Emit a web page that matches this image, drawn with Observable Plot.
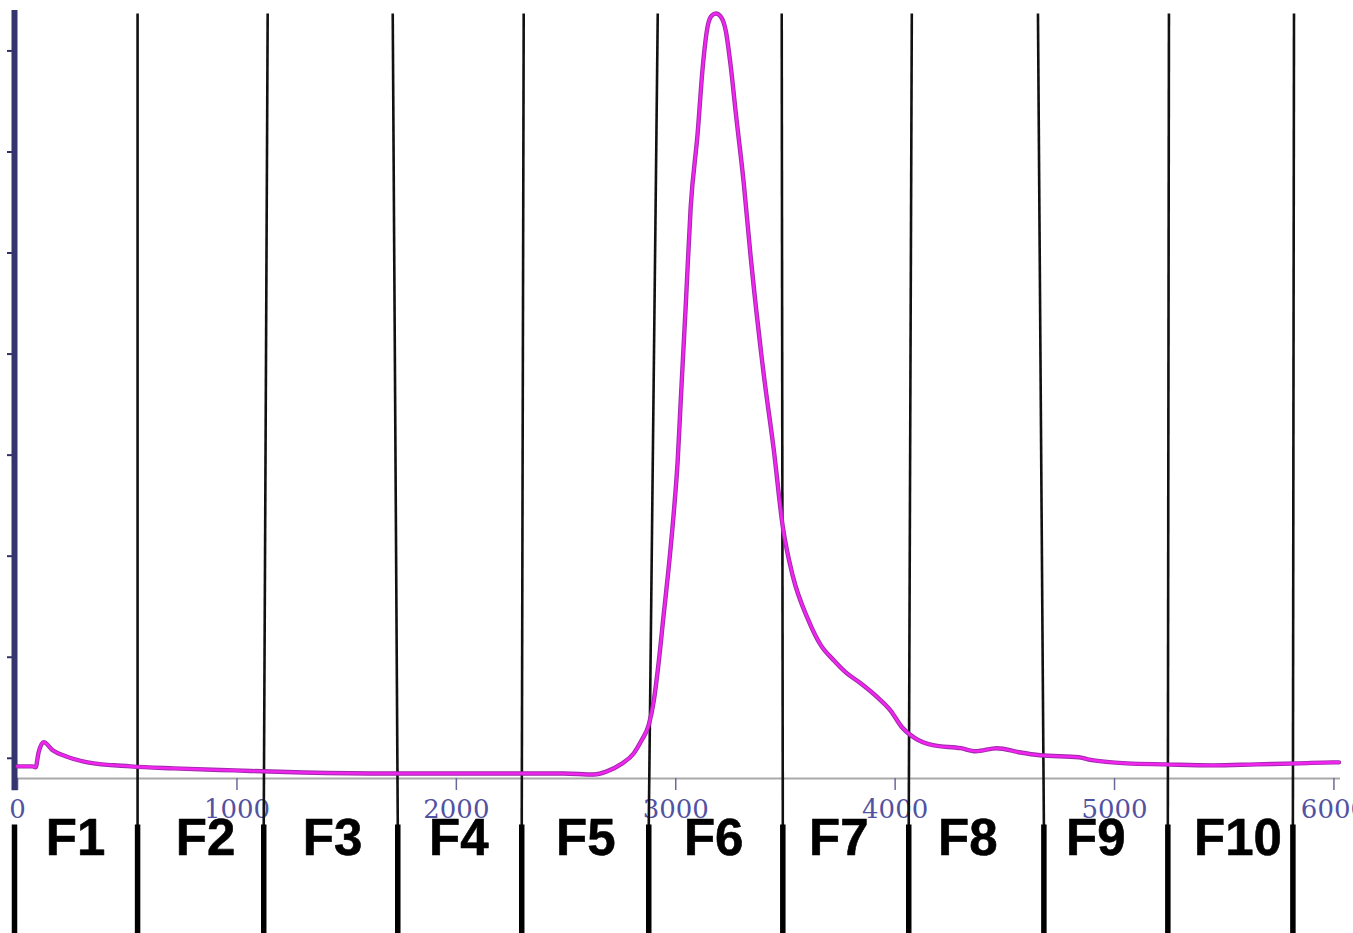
<!DOCTYPE html>
<html>
<head>
<meta charset="utf-8">
<script src="https://cdn.jsdelivr.net/npm/d3@7"></script>
<script src="https://cdn.jsdelivr.net/npm/@observablehq/plot@0.6"></script>
<style>
  html, body { margin: 0; padding: 0; background: #ffffff; }
  #chart svg { display: block; }
</style>
</head>
<body>
<div id="chart"></div>
<script>
// Elution volume (x) and detector signal (y, arbitrary units)
const volume = [0, 68, 82, 96, 119, 160, 219, 319, 515, 711, 989, 1304, 1701, 2093, 2489, 2626, 2686, 2749, 2809, 2845, 2877, 2900, 2918, 2945, 2968, 2991, 3009, 3023, 3046, 3068, 3100, 3123, 3146, 3164, 3183, 3205, 3228, 3251, 3274, 3310, 3342, 3401, 3447, 3488, 3534, 3602, 3661, 3720, 3775, 3844, 3921, 3980, 4030, 4090, 4172, 4299, 4368, 4464, 4564, 4660, 4837, 4878, 5056, 5230, 5448, 5645, 5840, 5996, 6023];
const signal = [-0.08, -0.08, -0.09, 0.06, 0.16, 0.08, 0.02, -0.04, -0.08, -0.10, -0.12, -0.14, -0.15, -0.15, -0.15, -0.16, -0.13, -0.06, 0.05, 0.18, 0.33, 0.57, 0.87, 1.42, 1.89, 2.43, 2.95, 3.55, 4.50, 5.45, 6.19, 6.84, 7.25, 7.35, 7.37, 7.34, 7.20, 6.84, 6.38, 5.69, 4.95, 3.80, 3.05, 2.29, 1.80, 1.38, 1.12, 0.97, 0.85, 0.74, 0.60, 0.47, 0.31, 0.20, 0.13, 0.10, 0.07, 0.10, 0.06, 0.03, 0.01, -0.01, -0.05, -0.06, -0.07, -0.06, -0.05, -0.04, -0.04];

// Fraction names and boundaries (in elution-volume units)
const fractionLabels = ["F1", "F2", "F3", "F4", "F5", "F6", "F7", "F8", "F9", "F10"];
const fractionCenters = [264, 857, 1436, 2011, 2590, 3173, 3743, 4331, 4915, 5563];
const boundaryTop = [547, 1140, 1710, 2307, 2918, 3483, 4076, 4651, 5248, 5818];
const boundaryBottom = [547, 1122, 1733, 2298, 2877, 3488, 4062, 4678, 5243, 5813];
const firstFractionStart = -14;

// Axis ticks
const xTicks = [0, 1000, 2000, 3000, 4000, 5000, 6000];
const yTicks = [0, 1, 2, 3, 4, 5, 6, 7];

const xDomain = [-14, 6030];
const yDomain = [-0.2, 7.4];

const trace = volume.map((v, i) => ({v, s: signal[i]}));
const upperLines = boundaryTop.map((t, i) => ({top: t, bottom: boundaryBottom[i]}));
const lowerLines = [firstFractionStart, ...boundaryBottom];
const labels = fractionLabels.map((name, i) => ({name, x: fractionCenters[i]}));

const labelY = -0.80;
const lowerTopY = -0.66;
const lowerBottomY = -1.76;

const chart = Plot.plot({
  width: 1353,
  height: 933,
  marginLeft: 14,
  marginRight: 13,
  marginTop: 10,
  marginBottom: 155,
  x: {domain: xDomain},
  y: {domain: yDomain},
  style: {background: "#ffffff", overflow: "hidden"},
  marks: [
    // x axis baseline
    Plot.ruleY([yDomain[0]], {stroke: "#a9a9a9", strokeWidth: 2}),
    Plot.axisX({
      ticks: xTicks,
      tickSize: 12,
      tickPadding: 9,
      tickFormat: d => String(d),
      stroke: "#6a6a9a",
      strokeWidth: 1.5,
      fill: "#5252a2",
      fontSize: 26,
      fontFamily: "DejaVu Serif",
      label: null
    }),
    // y axis (unlabelled ticks) with a thick navy spine
    Plot.axisY({
      ticks: yTicks,
      tickSize: 7,
      tickFormat: () => "",
      stroke: "#30306a",
      strokeWidth: 2,
      label: null
    }),
    Plot.ruleX([xDomain[0]], {y1: -0.32, y2: yDomain[1], stroke: "#34346e", strokeWidth: 6}),
    // fraction divider lines (upper, thin)
    Plot.link(upperLines, {x1: "top", y1: 7.37, x2: "bottom", y2: lowerTopY, stroke: "#111", strokeWidth: 2.6}),
    // fraction divider lines (lower, thick)
    Plot.ruleX(lowerLines, {y1: lowerTopY, y2: lowerBottomY, stroke: "#000", strokeWidth: 5.5}),
    // chromatogram trace
    Plot.line(trace, {x: "v", y: "s", curve: "monotone-x", stroke: "#9a2aa8", strokeWidth: 4.4}),
    Plot.line(trace, {x: "v", y: "s", curve: "monotone-x", stroke: "#f025ee", strokeWidth: 2.6}),
    // fraction labels
    Plot.text(labels, {
      x: "x", y: () => labelY, text: "name",
      fontSize: 51, fontWeight: "bold",
      fontFamily: "Liberation Sans, Arial, sans-serif",
      fill: "#000", stroke: "#000", strokeWidth: 0.6,
      textAnchor: "middle", lineAnchor: "middle"
    })
  ]
});

document.getElementById("chart").appendChild(chart);
</script>
</body>
</html>
